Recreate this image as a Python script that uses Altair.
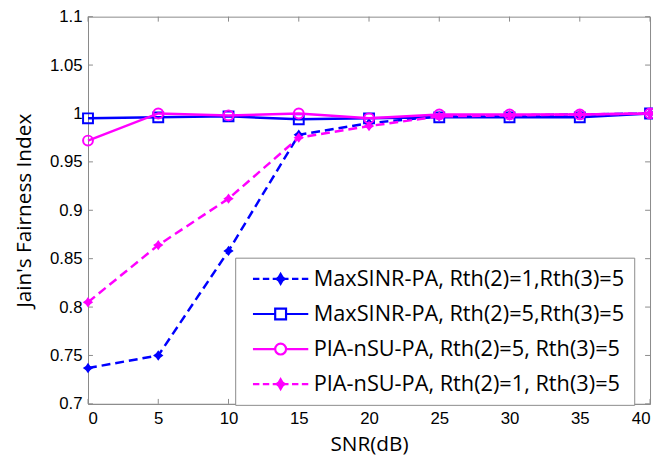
import altair as alt
import pandas as pd

# ---- data ----
snr = [0, 5, 10, 15, 20, 25, 30, 35, 40]
maxsinr_r1 = [0.737, 0.750, 0.858, 0.978, 0.990, 0.997, 0.998, 0.999, 1.000]
maxsinr_r5 = [0.995, 0.996, 0.997, 0.994, 0.995, 0.996, 0.996, 0.996, 1.000]
pia_r5 = [0.972, 1.000, 0.998, 1.000, 0.995, 0.999, 0.999, 0.999, 1.000]
pia_r1 = [0.805, 0.864, 0.912, 0.975, 0.987, 0.997, 0.998, 0.999, 1.000]

series_names = [
    "MaxSINR-PA, Rth(2)=1,Rth(3)=5",
    "MaxSINR-PA, Rth(2)=5,Rth(3)=5",
    "PIA-nSU-PA, Rth(2)=5, Rth(3)=5",
    "PIA-nSU-PA, Rth(2)=1, Rth(3)=5",
]
series_values = [maxsinr_r1, maxsinr_r5, pia_r5, pia_r1]
series_colors = ["#0000FF", "#0000FF", "#FF00FF", "#FF00FF"]
series_dashed = [True, False, False, True]
series_marker = ["star", "square", "circle", "star"]

x_ticks = [0, 5, 10, 15, 20, 25, 30, 35, 40]
y_ticks = [0.7, 0.75, 0.8, 0.85, 0.9, 0.95, 1.0, 1.05, 1.1]

# ---- styling ----
W, H = 569, 392
AXIS_GREY = "#8a8a8a"
TEXT_FONT = "Open Sans"
STAR = "M0,-1L0.42,-0.42L1,0L0.42,0.42L0,1L-0.42,0.42L-1,0L-0.42,-0.42Z"

# legend symbols: line segment + marker, path units (1 unit = sqrt(symbolSize)/2 = 10 px)
DASH_SEGS = "M-2.8,0H-2.15M-1.8,0H-1.15M-0.8,0H-0.4M0.4,0H0.8M1.15,0H1.8M2.15,0H2.8"
SOLID_SEGS = "M-2.8,0H-0.55M0.55,0H2.8"
LEG_STAR = ("M0,-0.5L0.18,-0.18L0.42,0L0.18,0.18L0,0.5L-0.18,0.18L-0.42,0L-0.18,-0.18Z"
            "M-0.25,0H0.25M0,-0.3V0.3")
LEG_SQUARE = "M-0.55,-0.55H0.55V0.55H-0.55Z"
LEG_CIRCLE = "M0.55,0A0.55,0.55 0 1,1 -0.55,0A0.55,0.55 0 1,1 0.55,0"
legend_paths = [
    DASH_SEGS + LEG_STAR,
    SOLID_SEGS + LEG_SQUARE,
    SOLID_SEGS + LEG_CIRCLE,
    DASH_SEGS + LEG_STAR,
]

rows = []
for name, vals in zip(series_names, series_values):
    for s, v in zip(snr, vals):
        rows.append({"series": name, "snr": s, "jfi": v})
df = pd.DataFrame(rows)

xs = alt.Scale(domain=[0, 40], nice=False, zero=False)
ys = alt.Scale(domain=[0.7, 1.1], nice=False, zero=False)
x_axis = alt.Axis(values=x_ticks, title="SNR(dB)", grid=False, ticks=False, format="d")
y_axis = alt.Axis(values=y_ticks, title="Jain's Fairness Index", grid=False, ticks=False, format="~g")

layers = []

# inward tick marks on all four sides
xt = pd.DataFrame({"snr": x_ticks})
yt = pd.DataFrame({"jfi": y_ticks})
tick_len = 5
layers.append(alt.Chart(xt).mark_rule(color=AXIS_GREY, strokeWidth=1).encode(
    x=alt.X("snr:Q", scale=xs, axis=x_axis), y=alt.value(H), y2=alt.value(H - tick_len)))
layers.append(alt.Chart(xt).mark_rule(color=AXIS_GREY, strokeWidth=1).encode(
    x=alt.X("snr:Q", scale=xs, axis=x_axis), y=alt.value(0), y2=alt.value(tick_len)))
layers.append(alt.Chart(yt).mark_rule(color=AXIS_GREY, strokeWidth=1).encode(
    y=alt.Y("jfi:Q", scale=ys, axis=y_axis), x=alt.value(0), x2=alt.value(tick_len)))
layers.append(alt.Chart(yt).mark_rule(color=AXIS_GREY, strokeWidth=1).encode(
    y=alt.Y("jfi:Q", scale=ys, axis=y_axis), x=alt.value(W), x2=alt.value(W - tick_len)))

for name, color, dashed, marker in zip(series_names, series_colors, series_dashed, series_marker):
    sub = df[df["series"] == name]
    line_kw = dict(color=color, strokeWidth=2.5)
    if dashed:
        line_kw["strokeDash"] = [9, 5]
    enc = dict(x=alt.X("snr:Q", scale=xs, axis=x_axis), y=alt.Y("jfi:Q", scale=ys, axis=y_axis))
    layers.append(alt.Chart(sub).mark_line(**line_kw).encode(**enc))
    if marker == "star":
        pt = alt.Chart(sub).mark_point(shape=STAR, filled=True, color=color, size=110, opacity=1)
    else:
        pt = alt.Chart(sub).mark_point(shape=marker, filled=False, color=color, size=100,
                                       strokeWidth=2, opacity=1)
    layers.append(pt.encode(**enc))

NBSP_PAD = "\u00a0" * 6
leg = alt.Legend(
    title=None, orient="none", legendX=149, legendY=244,
    labelFont=TEXT_FONT, labelFontSize=22, labelColor="black", labelLimit=700,
    labelExpr="datum.label + '" + NBSP_PAD + "'",
    symbolSize=400, symbolStrokeWidth=2.2, symbolOffset=24.5, labelOffset=22,
    rowPadding=12.5, padding=10, fillColor="white", strokeColor=AXIS_GREY,
)
legend_layer = alt.Chart(df).transform_filter("datum.snr < 0").mark_point(
    filled=False, opacity=1, strokeWidth=2.2
).encode(
    x=alt.X("snr:Q", scale=xs, axis=x_axis),
    y=alt.Y("jfi:Q", scale=ys, axis=y_axis),
    color=alt.Color("series:N", scale=alt.Scale(domain=series_names, range=series_colors), legend=leg),
    shape=alt.Shape("series:N", scale=alt.Scale(domain=series_names, range=legend_paths), legend=leg),
)
layers.append(legend_layer)

chart = alt.layer(*layers).properties(
    width=W, height=H,
    autosize=alt.AutoSizeParams(type="none"),
    padding={"left": 81, "top": 6, "right": 3, "bottom": 50},
).configure_view(
    stroke=AXIS_GREY, strokeWidth=1
).configure_axis(
    domainColor=AXIS_GREY, domainWidth=1,
    labelFont="Liberation Sans", labelFontSize=17, labelColor="black", labelPadding=6,
    titleFont=TEXT_FONT, titleFontSize=21, titleFontWeight="normal", titleColor="black",
).configure_axisY(titlePadding=15).configure_axisX(labelPadding=7, titlePadding=7)

chart.save("out.html", embed_options={"renderer": "svg", "actions": False})
